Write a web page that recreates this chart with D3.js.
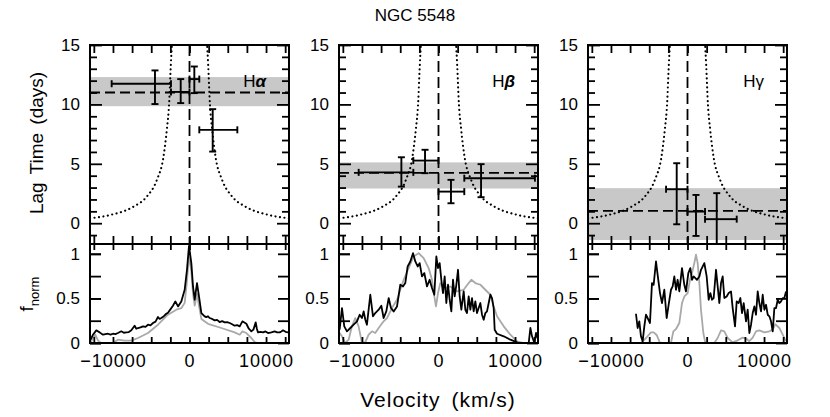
<!DOCTYPE html>
<html>
<head>
<meta charset="utf-8">
<script src="https://cdn.jsdelivr.net/npm/d3@7"></script>
<style>
body{margin:0;background:#fff}
text{font-family:"Liberation Sans",Arial,Helvetica,sans-serif;fill:#000}
</style>
</head>
<body>
<svg width="830" height="417"></svg>
<script>
/** Data **/
var lineNames = ["\u03b1", "\u03b2", "\u03b3"];
var lagMean = [11.0, 4.23, 1.04];
var lagLo = [9.85, 2.92, -1.41];
var lagHi = [12.3, 5.12, 2.95];

// velocity bins: [vel, velLo, velHi, lag, lagLo, lagHi]
var haBins = [
  [-4510, -10170, -2420, 11.74, 10.03, 12.86],
  [-1150, -2420, 0, 11.05, 10.11, 12.13],
  [630, 0, 1280, 12.13, 10.95, 13.19],
  [3030, 1280, 6250, 7.86, 6.03, 9.6]
];
var hbBins = [
  [-4850, -10430, -3290, 4.28, 3.08, 5.55],
  [-1760, -3290, 0, 5.27, 4.21, 6.18],
  [1630, 0, 3370, 2.66, 1.68, 3.65],
  [5560, 3370, 12600, 3.79, 2.19, 4.97]
];
var hgBins = [
  [-1410, -2800, 0, 2.86, -0.09, 5.05],
  [1110, 0, 2290, 0.98, -1.07, 2.38],
  [3820, 2290, 6430, 0.34, -2.2, 2.53]
];

// virial envelope, |velocity| and lag
var envVel = [2250, 2450, 2660, 2960, 3400, 4260, 5560, 7300, 10300, 13000];
var envLag = [15.6, 13.2, 10.1, 7.9, 5.6, 3.65, 2.25, 1.4, 0.7, 0.42];

// normalised profiles [velocity, flux]
var haBlack = [[-12920,0.037],[-12610,0.093],[-12180,0.142],[-11740,0.119],[-11310,0.093],[-10980,0.1],[-10650,0.104],[-10320,0.093],[-10000,0.104],[-9680,0.1],[-9350,0.112],[-8910,0.131],[-8580,0.115],[-8260,0.119],[-7930,0.123],[-7600,0.142],[-7170,0.194],[-6950,0.16],[-6730,0.168],[-6400,0.175],[-6080,0.187],[-5750,0.18],[-5420,0.205],[-5100,0.198],[-4770,0.224],[-4440,0.24],[-4120,0.291],[-3900,0.27],[-3680,0.28],[-3350,0.3],[-3030,0.328],[-2810,0.34],[-2590,0.366],[-2160,0.418],[-1850,0.466],[-1500,0.41],[-1070,0.466],[-630,0.597],[-330,0.821],[-65,1.09],[240,0.896],[460,0.634],[680,0.485],[980,0.672],[1240,0.522],[1550,0.336],[1980,0.299],[2200,0.29],[2420,0.3],[2640,0.28],[2960,0.27],[3290,0.254],[3600,0.26],[3940,0.235],[4270,0.245],[4600,0.231],[4920,0.235],[5250,0.224],[5570,0.21],[5900,0.194],[6230,0.2],[6560,0.187],[6910,0.243],[7170,0.23],[7430,0.216],[7750,0.16],[8080,0.131],[8350,0.15],[8650,0.231],[8800,0.16],[8950,0.119],[9280,0.125],[9610,0.119],[9930,0.13],[10260,0.112],[10700,0.12],[11130,0.131],[11450,0.12],[11780,0.119],[12000,0.13],[12220,0.142],[12550,0.125],[12870,0.119]];
var haGrey = [[-12920,0],[-12610,0.06],[-12310,0.093],[-11960,0.03],[-11610,0],[-10000,0],[-9350,0.037],[-8480,0.026],[-7600,0.026],[-6730,0.056],[-5420,0.112],[-4120,0.205],[-2810,0.317],[-1720,0.373],[-1070,0.39],[-630,0.45],[-330,0.7],[-65,0.98],[240,0.8],[460,0.55],[680,0.42],[980,0.55],[1240,0.42],[1550,0.27],[2420,0.215],[4160,0.168],[5900,0.119],[6560,0.093],[6910,0.13],[7430,0.112],[8080,0.056],[8520,0.01],[8950,0],[12870,0]];

var hbBlack = [[-12920,0.149],[-12610,0.392],[-12310,0.187],[-11960,0.131],[-11520,0.168],[-11090,0.205],[-10650,0.243],[-10300,0.317],[-10000,0.28],[-9780,0.354],[-9560,0.261],[-9350,0.205],[-8910,0.541],[-8560,0.299],[-8260,0.336],[-7820,0.373],[-7470,0.418],[-7170,0.28],[-6820,0.354],[-6510,0.504],[-6210,0.392],[-5860,0.354],[-5420,0.41],[-4990,0.653],[-4640,0.634],[-4340,0.672],[-4030,0.858],[-3680,0.914],[-3330,1.007],[-3030,0.914],[-2720,0.858],[-2460,0.896],[-2160,0.746],[-1850,0.784],[-1500,0.634],[-1160,0.709],[-850,0.616],[-545,0.541],[-283,0.97],[-65,0.84],[152,0.896],[370,0.709],[588,0.56],[806,0.746],[1024,0.448],[1242,0.653],[1460,0.485],[1677,0.354],[1895,0.709],[2113,0.522],[2331,0.653],[2549,0.821],[2767,0.522],[2985,0.373],[3290,0.578],[3507,0.373],[3725,0.336],[3943,0.522],[4161,0.373],[4379,0.504],[4597,0.354],[4814,0.466],[5032,0.336],[5250,0.392],[5468,0.448],[5686,0.317],[5904,0.261],[6122,0.336],[6339,0.354],[6557,0.448],[6775,0.541],[6993,0.504],[7211,0.392],[7341,0.149],[7646,0.104],[8518,0.075],[9390,0.037],[10478,0],[11786,0],[12004,0.168],[12221,0.075],[12526,0],[12744,0.112],[13006,0.037]];
var hbGrey = [[-12920,0.112],[-12610,0.075],[-12180,0],[-11740,0.037],[-11310,0.187],[-10870,0.28],[-10440,0.187],[-10000,0],[-9560,0.01],[-9130,0.093],[-8690,0.131],[-8260,0.112],[-7820,0.168],[-7170,0.243],[-6730,0.28],[-6080,0.392],[-5420,0.485],[-4990,0.597],[-4550,0.709],[-3900,0.84],[-3250,0.97],[-2590,1.007],[-1940,0.951],[-1290,0.84],[-850,0.709],[-545,0.522],[-330,0.41],[-65,0.56],[240,0.672],[890,0.616],[1550,0.634],[2420,0.578],[3290,0.597],[3940,0.672],[4290,0.709],[4810,0.672],[5470,0.653],[6120,0.597],[6780,0.541],[7210,0.41],[7650,0.3],[8520,0.187],[9390,0.093],[10260,0.019],[11130,0],[12870,0]];

var hgBlack = [[-6732,0.328],[-6514,0.168],[-6296,0.243],[-6078,0.075],[-5860,0.019],[-5642,0.187],[-5424,0.317],[-5207,0.28],[-4902,0.224],[-4640,0.672],[-4422,0.653],[-4117,0.914],[-3900,0.765],[-3595,0.56],[-3333,0.448],[-3028,0.597],[-2723,0.28],[-2462,0.429],[-2157,0.597],[-1939,0.634],[-1721,0.746],[-1503,0.597],[-1285,0.709],[-1067,0.578],[-719,0.84],[-414,0.653],[-196,0.578],[109,0.784],[370,0.84],[588,0.709],[806,0.746],[1024,0.728],[1242,0.709],[1547,0.746],[1765,0.821],[2200,0.896],[2505,0.746],[2767,0.485],[2985,0.56],[3202,0.485],[3420,0.504],[3725,0.821],[3943,0.634],[4161,0.448],[4379,0.672],[4597,0.746],[4814,0.504],[5119,0.522],[5381,0.56],[5686,0.578],[5904,0.392],[6209,0.187],[6427,0.466],[6688,0.448],[6906,0.504],[7124,0.336],[7341,0.448],[7646,0.243],[7864,0.373],[8082,0.112],[8300,0.205],[8518,0.336],[8736,0.41],[8954,0.317],[9171,0.578],[9389,0.448],[9607,0.354],[9825,0.541],[10043,0.373],[10261,0.429],[10478,0.317],[10696,0.299],[10914,0.243],[11132,0.131],[11350,0.392],[11568,0.392],[11786,0.485],[12004,0.448],[12221,0.466],[12439,0.504],[12657,0.504],[12875,0.578]];
var hgGrey = [[-6730,0],[-6080,0],[-5420,0.056],[-4770,0.119],[-4420,0.12],[-4030,0.09],[-3590,0],[-2160,0],[-1850,0.131],[-1500,0.157],[-1070,0.224],[-720,0.448],[-410,0.522],[20,0.56],[330,0.709],[590,0.784],[890,0.896],[1110,0.99],[1330,0.896],[1550,0.672],[1760,0.373],[2070,0.112],[2330,0],[3510,0],[3940,0.056],[4380,0.142],[4810,0.131],[5250,0.056],[5900,0.007],[6560,0.03],[7210,0.06],[7650,0.05],[8080,0.02],[8520,0.06],[8950,0.13],[9390,0.142],[10040,0.12],[10700,0.131],[11130,0.15],[11480,0.21],[12000,0.168],[12440,0.093],[12870,0.02]];

var bins = [haBins, hbBins, hgBins];
var blacks = [haBlack, hbBlack, hgBlack];
var greys = [haGrey, hbGrey, hgGrey];

// tick values
var velTicks = d3.range(-12500, 12501, 2500);
var velLabels = [-10000, 0, 10000];
var lagMajor = [0, 5, 10, 15];
var lagMinor = [-1, 1, 2, 3, 4, 6, 7, 8, 9, 11, 12, 13, 14];
var fluxTicks = [0, 0.25, 0.5, 0.75, 1];
var fluxLabels = [0, 0.5, 1];

/** Layout **/
var svg = d3.select("svg");
var panelLeft = [90, 339, 588];
var panelW = 199;
var upTop = 45, midY = 244, lowBot = 343;

svg.append("text").attr("x", 415).attr("y", 21).attr("text-anchor", "middle")
  .style("font-size", "17px").text("NGC 5548");

svg.append("text").attr("transform", "translate(43,143) rotate(-90)")
  .attr("text-anchor", "middle").style("font-size", "19px").style("word-spacing", "3px")
  .text("Lag Time (days)");

var fl = svg.append("text").attr("transform", "translate(33,294) rotate(-90)")
  .attr("text-anchor", "middle").style("font-size", "19px");
fl.append("tspan").text("f");
fl.append("tspan").attr("dy", 6).style("font-size", "13px").text("norm");

svg.append("text").attr("x", 438).attr("y", 407).attr("text-anchor", "middle")
  .style("font-size", "21px").style("letter-spacing", "1px").style("word-spacing", "4px")
  .text("Velocity (km/s)");

function styleAxis(g, size) {
  g.select(".domain").remove();
  g.selectAll("line").attr("stroke", "#000").attr("stroke-width", 1.8);
  g.selectAll("text").style("font-size", size + "px").attr("fill", "#000");
}

function drawPanel(i) {
  var L = panelLeft[i], R = L + panelW;
  var x = d3.scaleLinear().domain([-13000, 13000]).range([L, R]);
  var yU = d3.scaleLinear().domain([-1.75, 15]).range([midY, upTop]);
  var yL = d3.scaleLinear().domain([0, 1.11]).range([lowBot, midY]);

  var defs = svg.append("defs");
  defs.append("clipPath").attr("id", "cu" + i).append("rect")
    .attr("x", L).attr("y", upTop).attr("width", panelW).attr("height", midY - upTop);
  defs.append("clipPath").attr("id", "cl" + i).append("rect")
    .attr("x", L).attr("y", midY).attr("width", panelW).attr("height", lowBot - midY);

  var up = svg.append("g").attr("clip-path", "url(#cu" + i + ")");
  // mean lag band
  up.append("rect").attr("x", L).attr("width", panelW)
    .attr("y", yU(lagHi[i])).attr("height", yU(lagLo[i]) - yU(lagHi[i]))
    .attr("fill", "#c8c8c8");
  up.append("line").attr("x1", L).attr("x2", R)
    .attr("y1", yU(lagMean[i])).attr("y2", yU(lagMean[i]))
    .attr("stroke", "#000").attr("stroke-width", 1.8).attr("stroke-dasharray", "10,5");
  up.append("line").attr("x1", x(0)).attr("x2", x(0)).attr("y1", upTop).attr("y2", midY)
    .attr("stroke", "#000").attr("stroke-width", 1.8).attr("stroke-dasharray", "11,5");

  // dotted envelope
  var env = envVel.map(function(v, k) { return [v, envLag[k]]; });
  var envLine = d3.line().x(function(d) { return x(d[0]); }).y(function(d) { return yU(d[1]); })
    .curve(d3.curveMonotoneX);
  [1, -1].forEach(function(s) {
    var pts = env.map(function(d) { return [s * d[0], d[1]]; })
      .sort(function(a, b) { return a[0] - b[0]; });
    up.append("path").attr("d", envLine(pts)).attr("fill", "none")
      .attr("stroke", "#000").attr("stroke-width", 2.1)
      .attr("stroke-linecap", "round").attr("stroke-dasharray", "0.1,4.4");
  });

  // error bars
  var cap = 3.5;
  var eb = up.append("g").attr("stroke", "#000").attr("stroke-width", 1.9).attr("fill", "none");
  bins[i].forEach(function(b) {
    var cx = x(b[0]), cy = yU(b[3]);
    eb.append("line").attr("x1", x(b[1])).attr("x2", x(b[2])).attr("y1", cy).attr("y2", cy);
    eb.append("line").attr("x1", cx).attr("x2", cx).attr("y1", yU(b[4])).attr("y2", yU(b[5]));
    [b[1], b[2]].forEach(function(v) {
      eb.append("line").attr("x1", x(v)).attr("x2", x(v)).attr("y1", cy - cap).attr("y2", cy + cap);
    });
    [b[4], b[5]].forEach(function(l) {
      eb.append("line").attr("x1", cx - cap).attr("x2", cx + cap).attr("y1", yU(l)).attr("y2", yU(l));
    });
  });

  // label
  var lab = svg.append("text").attr("x", R - 23).attr("y", 87).attr("text-anchor", "end")
    .style("font-size", "17px");
  lab.append("tspan").text("H");
  lab.append("tspan").style("font-style", i < 2 ? "italic" : "normal").style("font-weight", i < 2 ? "bold" : "normal")
    .text(lineNames[i]);

  // profiles
  var low = svg.append("g").attr("clip-path", "url(#cl" + i + ")");
  var prof = d3.line().x(function(d) { return x(d[0]); }).y(function(d) { return yL(d[1]); });
  low.append("path").attr("d", prof(greys[i])).attr("fill", "none")
    .attr("stroke", "#a9a9a9").attr("stroke-width", 1.8).attr("stroke-linejoin", "round");
  low.append("path").attr("d", prof(blacks[i])).attr("fill", "none")
    .attr("stroke", "#000").attr("stroke-width", 1.8).attr("stroke-linejoin", "round");

  // axes (ticks inward)
  styleAxis(svg.append("g").attr("transform", "translate(" + L + ",0)")
    .call(d3.axisLeft(yU).tickValues(lagMajor).tickSize(-12).tickPadding(10).tickFormat(d3.format("d"))), 17);
  styleAxis(svg.append("g").attr("transform", "translate(" + L + ",0)")
    .call(d3.axisLeft(yU).tickValues(lagMinor).tickSize(-7).tickFormat("")), 16);
  styleAxis(svg.append("g").attr("transform", "translate(" + R + ",0)")
    .call(d3.axisRight(yU).tickValues(lagMajor).tickSize(-12).tickFormat("")), 16);
  styleAxis(svg.append("g").attr("transform", "translate(" + R + ",0)")
    .call(d3.axisRight(yU).tickValues(lagMinor).tickSize(-7).tickFormat("")), 16);
  styleAxis(svg.append("g").attr("transform", "translate(0," + upTop + ")")
    .call(d3.axisTop(x).tickValues(velTicks).tickSize(-8).tickFormat("")), 16);
  styleAxis(svg.append("g").attr("transform", "translate(0," + midY + ")")
    .call(d3.axisBottom(x).tickValues(velTicks).tickSize(-8).tickFormat("")), 16);

  styleAxis(svg.append("g").attr("transform", "translate(" + L + ",0)")
    .call(d3.axisLeft(yL).tickValues(fluxLabels).tickSize(-11).tickPadding(10).tickFormat(d3.format("~g"))), 17);
  styleAxis(svg.append("g").attr("transform", "translate(" + L + ",0)")
    .call(d3.axisLeft(yL).tickValues(fluxTicks).tickSize(-11).tickFormat("")), 16);
  styleAxis(svg.append("g").attr("transform", "translate(" + R + ",0)")
    .call(d3.axisRight(yL).tickValues(fluxTicks).tickSize(-11).tickFormat("")), 16);
  styleAxis(svg.append("g").attr("transform", "translate(0," + midY + ")")
    .call(d3.axisTop(x).tickValues(velTicks).tickSize(-6).tickFormat("")), 16);
  styleAxis(svg.append("g").attr("transform", "translate(0," + lowBot + ")")
    .call(d3.axisBottom(x).tickValues(velTicks).tickSize(-6).tickFormat("")), 16);
  var xl = svg.append("g").attr("transform", "translate(0," + lowBot + ")")
    .call(d3.axisBottom(x).tickValues(velLabels).tickSize(0).tickPadding(11).tickFormat(d3.format("d")));
  styleAxis(xl, 18);
  xl.selectAll("text").style("letter-spacing", "1px");

  // frames
  svg.append("rect").attr("x", L).attr("y", upTop).attr("width", panelW).attr("height", midY - upTop)
    .attr("fill", "none").attr("stroke", "#000").attr("stroke-width", 2);
  svg.append("rect").attr("x", L).attr("y", midY).attr("width", panelW).attr("height", lowBot - midY)
    .attr("fill", "none").attr("stroke", "#000").attr("stroke-width", 2);
}

for (var i = 0; i < 3; i++) drawPanel(i);
</script>
</body>
</html>
